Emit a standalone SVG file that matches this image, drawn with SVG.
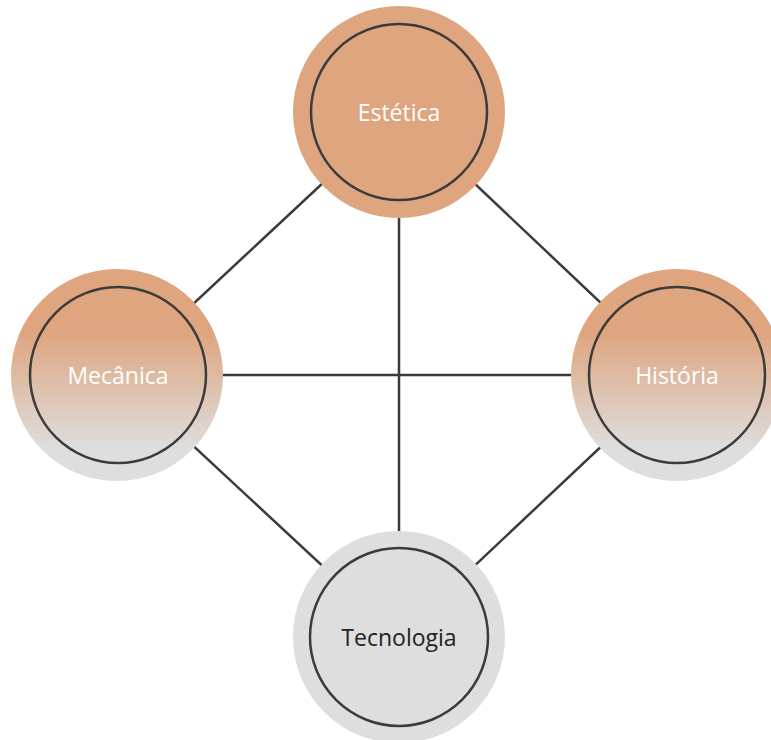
<svg xmlns="http://www.w3.org/2000/svg" width="771" height="740" viewBox="0 0 771 740">
  <style>
    .link { stroke: #3b3b3b; stroke-width: 2.5; fill: none; }
    .ring { fill: none; stroke: #3b3b3b; stroke-width: 2.5; }
    .label { font-family: "Open Sans", "Noto Sans", sans-serif; font-size: 23px; text-anchor: middle; }
    .light { fill: #ffffff; }
    .dark { fill: #222222; }
  </style>
  <defs>
    <linearGradient id="fade" x1="0" y1="0" x2="0" y2="1">
      <stop offset="0" stop-color="#dea57f"/>
      <stop offset="0.3" stop-color="#dea57f"/>
      <stop offset="0.85" stop-color="#dedede"/>
      <stop offset="1" stop-color="#dedede"/>
    </linearGradient>
  </defs>
  <rect width="771" height="740" fill="#ffffff"/>

  <g id="connectors">
    <line class="link" x1="399" y1="112" x2="399" y2="637"/>
    <line class="link" x1="117" y1="375" x2="677" y2="375"/>
    <line class="link" x1="399" y1="112" x2="117" y2="375"/>
    <line class="link" x1="399" y1="112" x2="677" y2="375"/>
    <line class="link" x1="117" y1="375" x2="399" y2="637"/>
    <line class="link" x1="677" y1="375" x2="399" y2="637"/>
  </g>

  <g id="estetica">
    <circle cx="399" cy="112" r="106" fill="#dea57f"/>
    <circle class="ring" cx="399" cy="112" r="88"/>
    <text class="label light" x="399" y="121">Estética</text>
  </g>

  <g id="mecanica">
    <circle cx="117" cy="375" r="106" fill="url(#fade)"/>
    <circle class="ring" cx="118" cy="375" r="88"/>
    <text class="label light" x="118" y="384">Mecânica</text>
  </g>

  <g id="historia">
    <circle cx="677" cy="375" r="106" fill="url(#fade)"/>
    <circle class="ring" cx="677" cy="375" r="88"/>
    <text class="label light" x="677" y="384">História</text>
  </g>

  <g id="tecnologia">
    <circle cx="399" cy="637" r="106" fill="#dedede"/>
    <circle class="ring" cx="399" cy="637" r="89"/>
    <text class="label dark" x="399" y="646">Tecnologia</text>
  </g>
</svg>
